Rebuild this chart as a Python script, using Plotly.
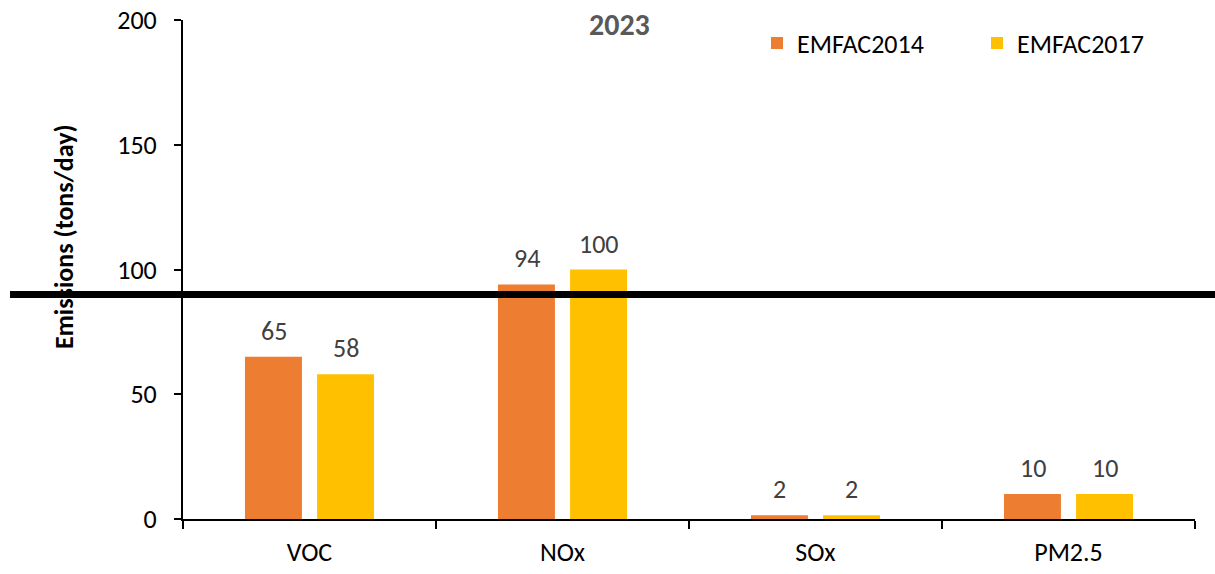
import plotly.graph_objects as go

categories = ["VOC", "NOx", "SOx", "PM2.5"]
series_names = ["EMFAC2014", "EMFAC2017"]
emfac2014 = [65, 94, 1.5, 10]
emfac2017 = [58, 100, 1.5, 10]
colors = ["#ED7D31", "#FFC000"]
y_ticks = [0, 50, 100, 150, 200]
threshold = 90
title_text = "2023"
y_title = "Emissions (tons/day)"

FONT = "Carlito, Calibri, Lato, sans-serif"

W, H = 1215, 574
L, R, T, B = 183, 20, 20, 55
PW, PH = W - L - R, H - T - B
OX, OY = 0, 0  # page offset (body margin removed)


def px_x(xp):
    return (xp - OX - L) / PW


def px_y(yp):
    return (OY + T + PH - yp) / PH


fig = go.Figure()
for name, vals, col in zip(series_names, [emfac2014, emfac2017], colors):
    fig.add_trace(go.Bar(
        name=name, x=categories, y=vals, marker=dict(color=col, line=dict(width=0)),
    ))

# data labels
for i, vals in enumerate([emfac2014, emfac2017]):
    shift = -36 if i == 0 else 36
    for c, v in zip(categories, vals):
        fig.add_annotation(x=c, y=v, xref="x", yref="y", text=f"{v:.0f}",
                           showarrow=False, xshift=shift, yshift=26, yanchor="middle",
                           font=dict(family=FONT, size=26, color="#404040"))

fig.add_shape(type="line", xref="paper", yref="y", x0=px_x(10), x1=px_x(1225), y0=threshold, y1=threshold,
              line=dict(color="black", width=7), layer="above")

fig.add_annotation(x=px_x(619), y=px_y(24), xref="paper", yref="paper", text=f"<b>{title_text}</b>",
                   showarrow=False, xanchor="center", yanchor="middle",
                   font=dict(family=FONT, size=30, color="#595959"))
fig.add_annotation(x=px_x(64), y=px_y(237), xref="paper", yref="paper",
                   text=f"<b>{y_title}</b>", textangle=-90, showarrow=False,
                   xanchor="center", yanchor="middle",
                   font=dict(family=FONT, size=26, color="black"))

fig.update_layout(
    width=W, height=H,
    margin=dict(l=L, r=R, t=T, b=B),
    paper_bgcolor="white", plot_bgcolor="white",
    barmode="group", bargap=0.43, bargroupgap=0.21,
    font=dict(family=FONT, size=26, color="black"),
    showlegend=True,
    legend=dict(orientation="h", x=px_x(757), y=px_y(43), xanchor="left", yanchor="middle",
                entrywidth=175, font=dict(family=FONT, size=26, color="black"), bgcolor="rgba(0,0,0,0)"),
    xaxis=dict(showline=True, linecolor="black", linewidth=2, ticks="outside", tickson="boundaries",
               ticklen=8, tickwidth=2, tickcolor="black", showgrid=False, automargin=False,
               ticklabelstandoff=9,
               tickfont=dict(family=FONT, size=26, color="black")),
    yaxis=dict(range=[0, 200], tickvals=y_ticks, showline=True, linecolor="black", linewidth=2,
               ticks="outside", ticklen=7, tickwidth=2, tickcolor="black", showgrid=False, zeroline=False,
               automargin=False, ticklabelstandoff=12, ticklabeloverflow="allow",
               tickfont=dict(family=FONT, size=26, color="black")),
)

fig.write_html("out.html", config={"displayModeBar": False},
               post_script="document.body.style.margin='0';document.body.style.overflow='hidden';")
